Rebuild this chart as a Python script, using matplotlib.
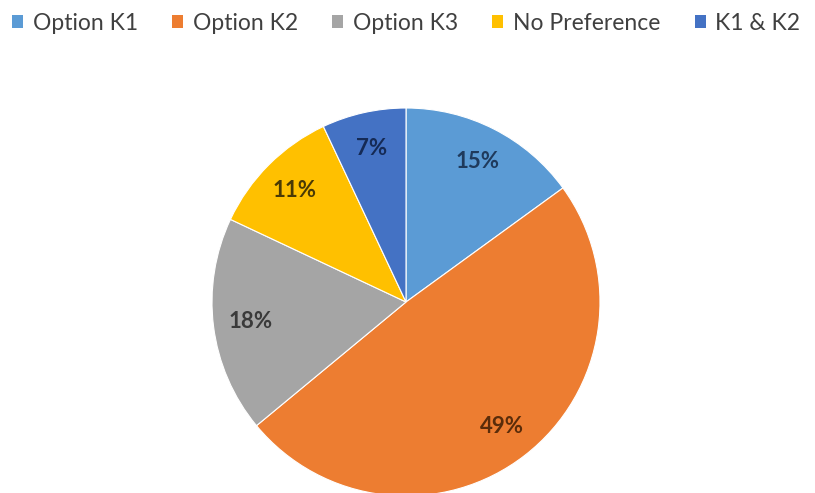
import matplotlib.pyplot as plt
from matplotlib.patches import Patch

# データ
labels = ['Option K1', 'Option K2', 'Option K3', 'No Preference', 'K1 & K2']
values = [15, 49, 18, 11, 7]
colors = ['#5B9BD5', '#ED7D31', '#A5A5A5', '#FFC000', '#4472C4']
label_colors = ['#1F3A5C', '#5A2C0A', '#3A3A3A', '#4A3A05', '#152A55']

plt.rcParams['font.family'] = ['Lato', 'DejaVu Sans']

W, H = 815, 493
fig = plt.figure(figsize=(W / 100, H / 100), dpi=100)

# 円グラフ (中心 406,302 / 半径 194 px)
cx, cy, r = 406, 302, 194
ax = fig.add_axes([(cx - r) / W, (H - cy - r) / H, 2 * r / W, 2 * r / H])
wedges, texts, autotexts = ax.pie(
    values, colors=colors, startangle=90, counterclock=False,
    autopct='%1.0f%%', pctdistance=0.81,
    wedgeprops=dict(linewidth=0.8, edgecolor='white'),
    textprops=dict(fontsize=16, fontweight='bold'))
for t, c in zip(autotexts, label_colors):
    t.set_color(c)
ax.set_xlim(-1, 1)
ax.set_ylim(-1, 1)
ax.set_aspect('equal')
ax.axis('off')

# 凡例
handles = [Patch(facecolor=c, edgecolor='none') for c in colors]
fig.legend(handles, labels, loc='upper left',
           bbox_to_anchor=(12 / W, 1 - 13 / H),
           ncol=5, frameon=False, fontsize=16.5, handlelength=0.48,
           handleheight=0.48, handletextpad=0.42, columnspacing=1.5,
           labelcolor='#404040', borderpad=0, borderaxespad=0)

plt.savefig('out.png', dpi=100)
plt.close(fig)
